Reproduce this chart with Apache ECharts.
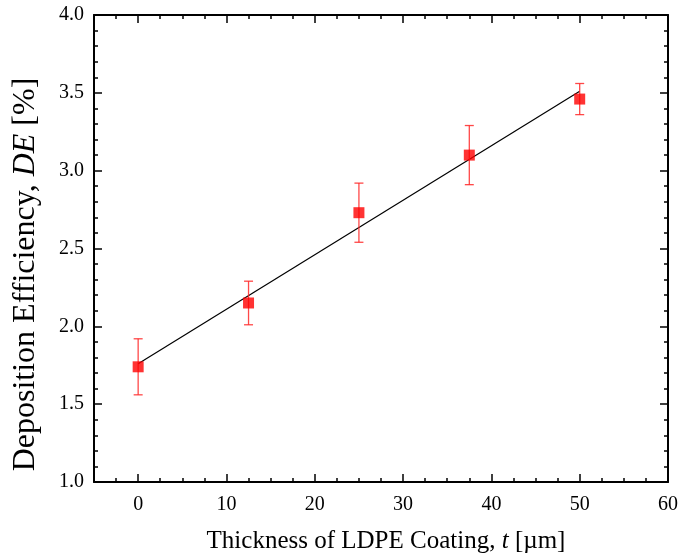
<!DOCTYPE html>
<html>
<head>
<meta charset="utf-8">
<script src="https://cdn.jsdelivr.net/npm/echarts@6/dist/echarts.min.js"></script>
<style>html,body{margin:0;padding:0;background:#fff}#c{width:682px;height:556px}</style>
</head>
<body>
<div id="c"></div>
<script>
// Data
const thickness = [0, 12.5, 25, 37.5, 50];
const depEff = [1.74, 2.15, 2.73, 3.10, 3.46];
const depErr = [0.18, 0.14, 0.19, 0.19, 0.10];
const fitX = [0, 50];
const fitY = [1.76, 3.51];
const xMajorTicks = [0, 10, 20, 30, 40, 50, 60];

const FONT = '"Liberation Serif", "DejaVu Serif", serif';
const chart = echarts.init(document.getElementById('c'), null, {renderer: 'canvas'});

const lineStyle = {color: '#000', width: 2};
function xAxisBase(pos) {
  return {
    type: 'value', position: pos, min: -5, max: 60, interval: 2.5,
    axisLine: {show: true, onZero: false, lineStyle: lineStyle},
    axisTick: {show: true, inside: true, length: 4, lineStyle: {color: '#000', width: 1.5}},
    splitLine: {show: false},
    axisLabel: {show: false}
  };
}
function xAxisMajor(pos, showLabel) {
  return {
    type: 'value', position: pos, min: -5, max: 60, interval: 2.5,
    axisLine: {show: false},
    axisTick: {show: true, inside: true, length: 8, customValues: xMajorTicks, lineStyle: {color: '#000', width: 1.5}},
    splitLine: {show: false},
    axisLabel: showLabel ? {show: true, customValues: xMajorTicks, margin: 13, color: '#000', fontFamily: FONT, fontSize: 20, formatter: v => String(v)} : {show: false}
  };
}
const xBottomName = {
  name: '{n|Thickness of LDPE Coating, }{i|t}{n| [µm]}',
  nameLocation: 'middle', nameGap: 47,
  nameTextStyle: {padding: [0, 0, 0, 10], rich: {n: {fontFamily: FONT, fontSize: 25, color: '#000'}, i: {fontFamily: FONT, fontSize: 25, fontStyle: 'italic', color: '#000'}}}
};

function yAxis(pos, showLabel) {
  const a = {
    type: 'value', position: pos, min: 1, max: 4, interval: 0.5,
    axisLine: {show: true, onZero: false, lineStyle: lineStyle},
    axisTick: {show: true, inside: true, length: 8, lineStyle: {color: '#000', width: 1.5}},
    minorTick: {show: true, splitNumber: 5, length: 4, lineStyle: {color: '#000', width: 1.5}},
    splitLine: {show: false}, minorSplitLine: {show: false},
    axisLabel: showLabel ? {show: true, margin: 10, color: '#000', fontFamily: FONT, fontSize: 20, formatter: v => v.toFixed(1)} : {show: false}
  };
  if (showLabel) {
    a.name = '{n|Deposition Efficiency, }{i|DE}{n| [%]}';
    a.nameLocation = 'middle';
    a.nameGap = 52;
    a.nameTextStyle = {padding: [0, 52, 0, 0], rich: {n: {fontFamily: FONT, fontSize: 32, color: '#000'}, i: {fontFamily: FONT, fontSize: 32, fontStyle: 'italic', color: '#000'}}};
  }
  return a;
}

const errData = thickness.map((x, i) => [x, depEff[i] - depErr[i], depEff[i] + depErr[i]]);

const option = {
  backgroundColor: '#fff',
  animation: false,
  grid: {left: 94, right: 14, top: 15, bottom: 74, containLabel: false, outerBoundsMode: 'none'},
  xAxis: [
    xAxisBase('bottom'),
    Object.assign(xAxisMajor('bottom', true), xBottomName),
    xAxisBase('top'),
    xAxisMajor('top', false)
  ],
  yAxis: [yAxis('left', true), yAxis('right', false)],
  series: [
    {
      type: 'line', xAxisIndex: 0, yAxisIndex: 0,
      data: fitX.map((x, i) => [x, fitY[i]]),
      showSymbol: false, symbol: 'none',
      lineStyle: {color: '#000', width: 1.2}, z: 2
    },
    {
      type: 'custom', xAxisIndex: 0, yAxisIndex: 0,
      data: errData, z: 3,
      renderItem: function (params, api) {
        const x = api.value(0);
        const lo = api.coord([x, api.value(1)]);
        const hi = api.coord([x, api.value(2)]);
        const hw = 4.5;
        const st = {stroke: 'rgba(255,40,40,0.85)', lineWidth: 1.3};
        return {type: 'group', children: [
          {type: 'line', shape: {x1: lo[0], y1: lo[1], x2: hi[0], y2: hi[1]}, style: st},
          {type: 'line', shape: {x1: lo[0] - hw, y1: lo[1], x2: lo[0] + hw, y2: lo[1]}, style: st},
          {type: 'line', shape: {x1: hi[0] - hw, y1: hi[1], x2: hi[0] + hw, y2: hi[1]}, style: st}
        ]};
      }
    },
    {
      type: 'scatter', xAxisIndex: 0, yAxisIndex: 0,
      data: thickness.map((x, i) => [x, depEff[i]]),
      symbol: 'rect', symbolSize: 11,
      itemStyle: {color: '#ff0000'}, z: 4
    }
  ]
};
chart.setOption(option);
</script>
</body>
</html>
